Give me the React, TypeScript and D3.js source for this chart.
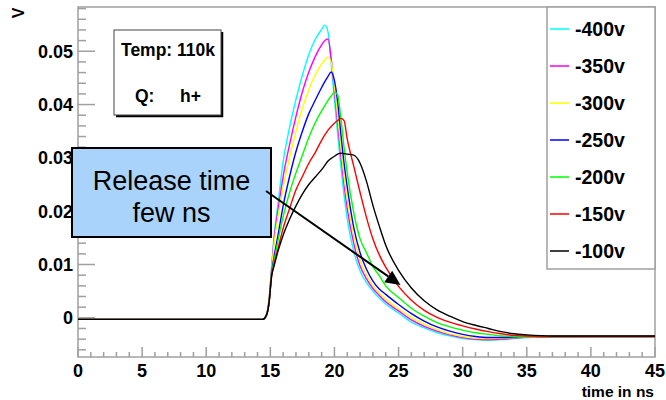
import React from "react";
import * as d3 from "d3";

// time samples (ns)
const T = [0, 14.4, 14.7, 14.9, 15.1, 15.3, 15.6, 16, 16.5, 17, 17.5, 18, 18.5, 19, 19.25, 19.5, 19.75, 20, 20.25, 20.5, 20.75, 21, 21.5, 22, 22.5, 23, 23.5, 24, 25, 26, 27, 28, 29, 30, 31, 32, 33, 34, 35, 37, 40, 45];

const V400 = [-0.0003, -0.0003, 0.0006, 0.0035, 0.0095, 0.0155, 0.0215, 0.0293, 0.0357, 0.041, 0.0455, 0.0494, 0.0522, 0.0541, 0.0549, 0.0536, 0.0475, 0.041, 0.0345, 0.0285, 0.023, 0.0185, 0.0125, 0.0088, 0.0066, 0.005, 0.0037, 0.0026, 0.0009, -0.0008, -0.0019, -0.0028, -0.0034, -0.0039, -0.0041, -0.0042, -0.0041, -0.0039, -0.0037, -0.0036, -0.0035, -0.0035];
const V350 = [-0.0003, -0.0003, 0.0006, 0.0034, 0.0092, 0.0148, 0.0202, 0.0265, 0.0325, 0.0378, 0.0424, 0.0461, 0.049, 0.0512, 0.052, 0.0523, 0.0485, 0.0425, 0.0365, 0.0305, 0.025, 0.0205, 0.014, 0.0097, 0.0073, 0.0055, 0.0042, 0.003, 0.0013, -0.0004, -0.0016, -0.0025, -0.0032, -0.0037, -0.004, -0.0041, -0.004, -0.0038, -0.0036, -0.0035, -0.0035, -0.0035];
const V300 = [-0.0003, -0.0003, 0.0006, 0.0033, 0.009, 0.014, 0.019, 0.0245, 0.03, 0.035, 0.0393, 0.0428, 0.0456, 0.0476, 0.0484, 0.0489, 0.0478, 0.0435, 0.0378, 0.032, 0.0265, 0.0222, 0.0155, 0.0108, 0.008, 0.006, 0.0046, 0.0035, 0.0017, 0.0001, -0.0012, -0.0022, -0.003, -0.0035, -0.0038, -0.0039, -0.0038, -0.0037, -0.0036, -0.0035, -0.0035, -0.0035];
const V250 = [-0.0003, -0.0003, 0.0005, 0.003, 0.0085, 0.0115, 0.0155, 0.021, 0.0265, 0.0312, 0.035, 0.0383, 0.0408, 0.0432, 0.0443, 0.0453, 0.0461, 0.0445, 0.0405, 0.0345, 0.029, 0.0245, 0.017, 0.0122, 0.0091, 0.0069, 0.0054, 0.0044, 0.0025, 0.0008, -0.0006, -0.0017, -0.0025, -0.0031, -0.0035, -0.0037, -0.0037, -0.0036, -0.0035, -0.0035, -0.0035, -0.0035];
const V200 = [-0.0003, -0.0003, 0.0005, 0.003, 0.0082, 0.0108, 0.0145, 0.019, 0.0235, 0.0272, 0.0305, 0.0338, 0.0366, 0.0388, 0.0398, 0.0408, 0.0416, 0.0423, 0.0418, 0.0375, 0.032, 0.0272, 0.0198, 0.0148, 0.0122, 0.0096, 0.0079, 0.006, 0.0038, 0.0018, 0.0003, -0.0009, -0.0017, -0.0023, -0.0028, -0.0031, -0.0034, -0.0035, -0.0035, -0.0035, -0.0035, -0.0035];
const V150 = [-0.0003, -0.0003, 0.0005, 0.0028, 0.0078, 0.0102, 0.013, 0.0168, 0.0205, 0.024, 0.0265, 0.029, 0.031, 0.0333, 0.0343, 0.0352, 0.0359, 0.0365, 0.037, 0.0374, 0.037, 0.0335, 0.0285, 0.0235, 0.0188, 0.0148, 0.0118, 0.0095, 0.0059, 0.0033, 0.0014, 0.0001, -0.0008, -0.0015, -0.0021, -0.0026, -0.003, -0.0033, -0.0034, -0.0035, -0.0035, -0.0035];
const V100 = [-0.0003, -0.0003, 0.0005, 0.0028, 0.0078, 0.0098, 0.0125, 0.0155, 0.0185, 0.021, 0.0232, 0.025, 0.0264, 0.0278, 0.0286, 0.0294, 0.0299, 0.0303, 0.0307, 0.0309, 0.0308, 0.0307, 0.0305, 0.029, 0.0256, 0.0211, 0.0172, 0.0136, 0.0089, 0.0056, 0.0032, 0.0015, 0.0003, -0.0007, -0.0014, -0.002, -0.0026, -0.003, -0.0032, -0.0034, -0.0034, -0.0034];

const SERIES_NAMES = ["-400v", "-350v", "-300v", "-250v", "-200v", "-150v", "-100v"];
const SERIES_VALUES = [V400, V350, V300, V250, V200, V150, V100];
const SERIES_COLORS = ["#00ffff", "#ff00ff", "#ffff00", "#0000ff", "#00ff00", "#ff0000", "#000000"];

const X_TICKS = [0, 5, 10, 15, 20, 25, 30, 35, 40, 45];
const Y_TICKS = [0, 0.01, 0.02, 0.03, 0.04, 0.05];
const Y_TICK_LABELS = ["0", "0.01", "0.02", "0.03", "0.04", "0.05"];

const W = 666, H = 400;
const L = 78, R = 655, TOP = 7, BOT = 357;

export default function App() {
  const x = d3.scaleLinear().domain([0, 45]).range([L, R]);
  const y = d3.scaleLinear().domain([-0.00735, 0.0583]).range([BOT, TOP]);
  const xMinor = d3.range(0, 46, 1).filter((v) => v % 5 !== 0);
  const yMinor = d3.range(-6, 59, 2).map((v) => v / 1000).filter((v) => Math.abs(v * 100 - Math.round(v * 100)) > 1e-6);
  const line = d3
    .line<number>()
    .x((_, i) => x(T[i]))
    .y((d) => y(d))
    .curve(d3.curveMonotoneX);
  const axisColor = "#a0a0a0";
  const bold = { fontFamily: "'Liberation Sans', Arial, sans-serif", fontWeight: 700 } as const;

  const arrowStart = [266, 191];
  const arrowTip = [400.5, 285];
  const ang = Math.atan2(arrowTip[1] - arrowStart[1], arrowTip[0] - arrowStart[0]);
  const aLen = 15, aHalf = 7;
  const bx = arrowTip[0] - aLen * Math.cos(ang), by = arrowTip[1] - aLen * Math.sin(ang);
  const head = [
    [arrowTip[0], arrowTip[1]],
    [bx + aHalf * Math.sin(ang), by - aHalf * Math.cos(ang)],
    [bx - aHalf * Math.sin(ang), by + aHalf * Math.cos(ang)],
  ];

  return (
    <svg width={W} height={H} style={{ position: "absolute", left: 0, top: 0, background: "#fff" }}>
      <rect x={0} y={0} width={W} height={H} fill="#fff" />
      <defs>
        <clipPath id="plotclip">
          <rect x={L} y={TOP} width={R - L} height={BOT - TOP} />
        </clipPath>
      </defs>
      {/* frame */}
      <rect x={L} y={TOP} width={R - L} height={BOT - TOP} fill="none" stroke={axisColor} strokeWidth={1.5} />
      {/* y ticks */}
      {Y_TICKS.map((v) => (
        <line key={"ym" + v} x1={L} x2={L + 17} y1={y(v)} y2={y(v)} stroke={axisColor} strokeWidth={1.5} />
      ))}
      {yMinor.map((v) => (
        <line key={"yn" + v} x1={L} x2={L + 8} y1={y(v)} y2={y(v)} stroke={axisColor} strokeWidth={1.5} />
      ))}
      {/* x ticks */}
      {X_TICKS.map((v) => (
        <line key={"xm" + v} x1={x(v)} x2={x(v)} y1={BOT} y2={BOT - 10} stroke={axisColor} strokeWidth={1.5} />
      ))}
      {xMinor.map((v) => (
        <line key={"xn" + v} x1={x(v)} x2={x(v)} y1={BOT} y2={BOT - 5} stroke={axisColor} strokeWidth={1.5} />
      ))}
      {/* curves */}
      <g clipPath="url(#plotclip)">
        {SERIES_VALUES.map((vals, i) => (
          <path key={SERIES_NAMES[i]} d={line(vals) || ""} fill="none" stroke={SERIES_COLORS[i]} strokeWidth={1.4} />
        ))}
      </g>
      {/* tick labels */}
      {Y_TICKS.map((v, i) => (
        <text key={"yl" + v} x={73} y={y(v)} dy="0.36em" textAnchor="end" fontSize={18} {...bold}>
          {Y_TICK_LABELS[i]}
        </text>
      ))}
      {X_TICKS.map((v) => (
        <text key={"xl" + v} x={x(v)} y={377} textAnchor="middle" fontSize={18} {...bold}>
          {String(v)}
        </text>
      ))}
      <text x={654} y={397} textAnchor="end" fontSize={15.5} {...bold}>time in ns</text>
      <text transform="translate(24,13) rotate(-90)" textAnchor="middle" fontSize={16} {...bold}>V</text>

      {/* Temp box */}
      <line x1={116} x2={223} y1={116} y2={116} stroke="#000" strokeWidth={2.5} />
      <line x1={222} x2={222} y1={32} y2={117} stroke="#000" strokeWidth={2.5} />
      <rect x={114} y={30} width={107} height={85} fill="#fff" stroke="#444" strokeWidth={1} />
      <text x={121} y={56} fontSize={17.5} {...bold}>Temp: 110k</text>
      <text x={135} y={102} fontSize={17.5} {...bold}>Q:</text>
      <text x={180} y={102} fontSize={17.5} {...bold}>h+</text>

      {/* Release box */}
      <rect x={72} y={148} width={199} height={89} fill="#a9d3fb" stroke="#000" strokeWidth={2} />
      <text x={171.5} y={190} textAnchor="middle" fontSize={27} fontFamily="'Liberation Sans', Arial, sans-serif">Release time</text>
      <text x={171.5} y={222} textAnchor="middle" fontSize={27} fontFamily="'Liberation Sans', Arial, sans-serif">few ns</text>

      {/* arrow */}
      <line x1={arrowStart[0]} y1={arrowStart[1]} x2={bx} y2={by} stroke="#000" strokeWidth={2} />
      <polygon points={head.map((p) => p.join(",")).join(" ")} fill="#000" />

      {/* legend */}
      <rect x={547} y={TOP} width={R - 547} height={269 - TOP} fill="#fff" stroke={axisColor} strokeWidth={1.5} />
      {SERIES_NAMES.map((name, i) => {
        const cy = 29 + i * 37;
        return (
          <g key={"lg" + name}>
            <line x1={550} x2={569} y1={cy} y2={cy} stroke={SERIES_COLORS[i]} strokeWidth={1.5} />
            <text x={575} y={cy} dy="0.36em" fontSize={19.5} {...bold}>{name}</text>
          </g>
        );
      })}
    </svg>
  );
}
